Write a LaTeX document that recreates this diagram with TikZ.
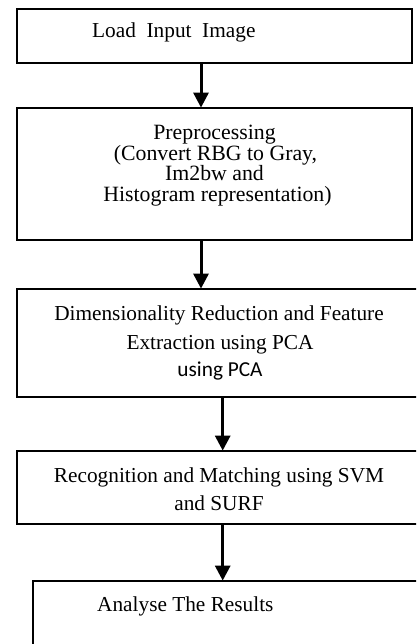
\documentclass[tikz,border=0pt]{standalone}
\usepackage{fontspec}
\setmainfont{Liberation Serif}
\newfontfamily\carlitofont{Carlito}
\usetikzlibrary{arrows.meta}

\tikzset{
  stage/.style={draw=black, line width=1.8pt, rectangle, inner sep=0pt},
  flow/.style={draw=black, line width=3pt,
    -{Triangle[length=15pt,width=15pt]}, shorten >=-0.5pt},
  txt/.style={inner sep=0pt, anchor=base, font=\fontsize{21.3pt}{21.3pt}\selectfont},
  txtbig/.style={txt, font=\fontsize{21.8pt}{21.8pt}\selectfont},
  txtl/.style={txt, anchor=base west},
}

\begin{document}
\begin{tikzpicture}[x=1pt, y=-1pt]
  \useasboundingbox (0,0) rectangle (416,644);
  \clip (0,0) rectangle (416,644);
  \fill[white] (0,0) rectangle (416,644);

  % stage boxes
  \node[stage, minimum width=395pt, minimum height=54pt]  (b1) at (214.5,36)    {};
  \node[stage, minimum width=395pt, minimum height=132pt] (b2) at (214.5,174)   {};
  \node[stage, minimum width=408pt, minimum height=108pt] (b3) at (221,343)     {};
  \node[stage, minimum width=408pt, minimum height=73pt]  (b4) at (221,487.5)   {};
  \node[stage, minimum width=417pt, minimum height=89pt]  (b5) at (241.5,625.5) {};

  % labels
  \node[txtl] (t1) at (92,37.7) {Load\ \ Input\ \ Image};

  \node[txtbig] (t2a) at (214.5,140)   {Preprocessing};
  \node[txtbig] (t2b) at (215.5,160.7) {(Convert RBG to Gray,};
  \node[txtbig] (t2c) at (214.5,181)   {Im2bw and};
  \node[txtbig] (t2d) at (217.5,201.7) {Histogram representation)};

  \node[txt] (t3a) at (219,320.7) {Dimensionality Reduction and Feature};
  \node[txt] (t3b) at (220,349)   {Extraction using PCA};
  \node[txt, font=\carlitofont\fontsize{21.3pt}{21.3pt}\selectfont] (t3c) at (220,376.7) {using PCA};

  \node[txt] (t4a) at (219,482.3) {Recognition and Matching using SVM};
  \node[txt] (t4b) at (219,510)   {and SURF};

  \node[txtl] (t5) at (97,611.7) {Analyse The Results};

  % arrow columns
  \coordinate (c1) at (201,0);
  \coordinate (c2) at (222.7,0);

  % connectors
  \draw[flow] (b1.south -| c1) -- (b2.north -| c1);
  \draw[flow] (b2.south -| c1) -- (b3.north -| c1);
  \draw[flow] (b3.south -| c2) -- (b4.north -| c2);
  \draw[flow] (b4.south -| c2) -- (b5.north -| c2);
\end{tikzpicture}
\end{document}
